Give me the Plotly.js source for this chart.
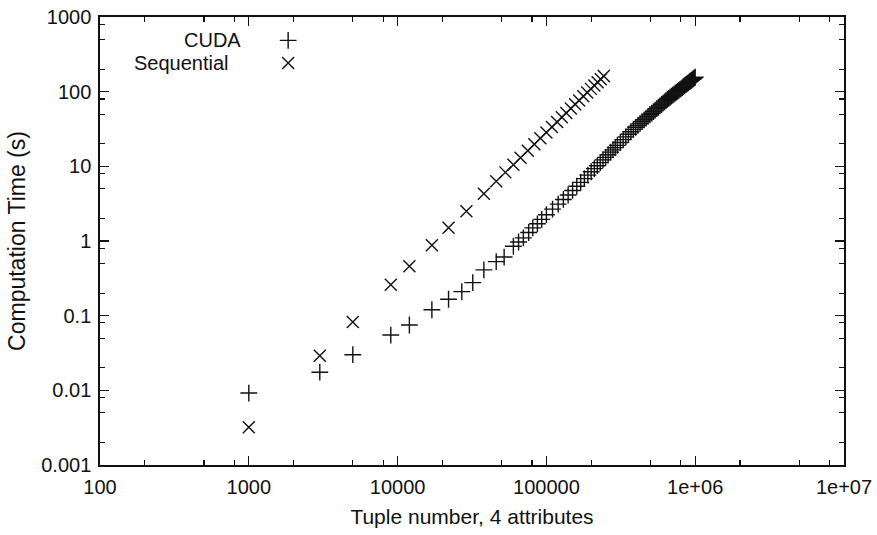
<!DOCTYPE html>
<html>
<head>
<meta charset="utf-8">
<script src="https://cdn.plot.ly/plotly-3.0.1.min.js"></script>
<style>html,body{margin:0;padding:0;background:#fff;}#chart{width:877px;height:535px;}</style>
</head>
<body>
<div id="chart"></div>
<script>
// ---- data ----
var seriesNames = ["CUDA", "Sequential"];

var cudaX = [1000, 3000, 5000, 9000, 12000, 17000, 22000, 27000, 32000, 38000, 46000, 52000, 60000, 65000, 70000, 76000, 81000, 87000, 93000,
  100000, 110000, 120000, 130000, 140000, 150000, 160000, 170000, 180000, 190000, 200000, 210000, 220000, 230000, 240000, 250000, 260000, 270000, 280000, 290000, 300000,
  314000, 328000, 342000, 356000, 370000, 384000, 398000, 412000, 426000, 440000, 454000, 468000, 482000, 496000, 510000, 524000, 538000, 552000, 566000, 580000, 594000, 608000, 622000, 636000,
  650000, 664000, 678000, 692000, 706000, 720000, 734000, 748000, 762000, 776000, 790000, 804000, 818000, 832000, 846000, 860000, 874000, 888000, 902000, 916000, 930000, 944000, 958000, 972000, 986000, 1000000];
var cudaY = [0.0092, 0.0175, 0.030, 0.055, 0.075, 0.12, 0.166, 0.21, 0.277, 0.41, 0.53, 0.61, 0.85, 0.97, 1.1, 1.3, 1.5, 1.7, 1.95,
  2.25, 2.67, 3.12, 3.60, 4.13, 4.75, 5.41, 6.10, 6.85, 7.63, 8.46, 9.32, 10.2, 11.2, 12.2, 13.2, 14.3, 15.5, 16.6, 17.8, 19.1,
  20.9, 22.8, 24.8, 26.9, 29.1, 31.3, 33.3, 35.4, 37.5, 39.8, 42.0, 44.3, 46.7, 49.1, 51.5, 54.0, 56.6, 59.2, 61.8, 64.6, 67.3, 70.2, 73.0, 75.9,
  78.7, 81.4, 84.2, 87.0, 89.7, 92.6, 95.5, 98.4, 101, 104, 107, 110, 113, 117, 120, 123, 126, 129, 132, 136, 139, 142, 146, 149, 153, 156];

var seqX = [1000, 3000, 5000, 9000, 12000, 17000, 22000, 29000, 38000, 46000, 53000, 60000, 67000, 75000, 83000, 91000,
  100000, 109000, 118000, 127000, 136000, 146000, 156000, 166000, 177000, 188000, 199000, 210000, 221000, 232000, 243000];
var seqY = [0.0032, 0.029, 0.082, 0.26, 0.46, 0.88, 1.5, 2.5, 4.3, 6.3, 8.3, 10.5, 13.0, 16.2, 19.8, 23.7,
  28.4, 33.7, 39.3, 45.4, 51.8, 59.5, 67.7, 76.4, 86.7, 97.5, 109, 121, 134, 147, 162];

var xTickVals = [100, 1000, 10000, 100000, 1000000, 10000000];
var xTickText = ["100", "1000", "10000", "100000", "1e+06", "1e+07"];
var yTickVals = [0.001, 0.01, 0.1, 1, 10, 100, 1000];
var yTickText = ["0.001", "0.01", "0.1", "1", "10", "100", "1000"];

var xTitle = "Tuple number, 4 attributes";
var yTitle = "Computation Time (s)";

// ---- minor tick positions (2, 5, 8 within each decade) ----
function minorTicks(lo, hi) {
  var out = [];
  for (var e = lo; e < hi; e++) {
    [2, 5, 8].forEach(function (m) { out.push(m * Math.pow(10, e)); });
  }
  return out;
}

var ink = "#111";
var FONT = "Liberation Sans, Arial, Helvetica, sans-serif";

var traces = [
  {
    x: cudaX, y: cudaY, type: "scatter", mode: "markers", name: " ",
    marker: { symbol: "cross-thin", size: 12, color: ink, line: { color: ink, width: 1.4 } }
  },
  {
    x: seqX, y: seqY, type: "scatter", mode: "markers", name: " ",
    marker: { symbol: "x-thin", size: 12, color: ink, line: { color: ink, width: 1.4 } }
  }
];

var axisCommon = {
  type: "log",
  showgrid: false, zeroline: false,
  showline: true, linecolor: ink, linewidth: 1.7, mirror: "ticks",
  ticks: "inside", ticklen: 9, tickwidth: 1.2, tickcolor: ink,
  tickmode: "array",
  tickfont: { family: FONT, size: 20, color: ink }
};

var layout = {
  width: 877, height: 535,
  paper_bgcolor: "#fff", plot_bgcolor: "#fff",
  margin: { l: 100, r: 33, t: 17, b: 70 },
  font: { family: FONT, color: ink },
  xaxis: Object.assign({}, axisCommon, {
    range: [2, 7],
    tickvals: xTickVals, ticktext: xTickText,
    minor: { tickmode: "array", tickvals: minorTicks(2, 7), ticks: "inside", ticklen: 5, tickwidth: 1.2, tickcolor: ink, showgrid: false },
    ticklabelstandoff: 3,
    title: { text: xTitle, font: { family: FONT, size: 21, color: ink }, standoff: 12 }
  }),
  yaxis: Object.assign({}, axisCommon, {
    range: [-3, 3],
    tickvals: yTickVals, ticktext: yTickText,
    minor: { tickmode: "array", tickvals: minorTicks(-3, 3), ticks: "inside", ticklen: 5, tickwidth: 1.2, tickcolor: ink, showgrid: false },
    ticklabelstandoff: 3,
    title: { text: yTitle, font: { family: FONT, size: 23, color: ink }, standoff: 9 }
  }),
  showlegend: true,
  legend: {
    x: 0.226, y: 0.984, xanchor: "left", yanchor: "top",
    bgcolor: "rgba(0,0,0,0)", borderwidth: 0,
    font: { family: FONT, size: 15, color: ink },
    itemwidth: 30, tracegroupgap: 0
  },
  annotations: [
    { xref: "paper", yref: "paper", x: 0.1922, y: 0.9487, xanchor: "right", yanchor: "middle", showarrow: false,
      text: seriesNames[0], font: { family: FONT, size: 20, color: ink } },
    { xref: "paper", yref: "paper", x: 0.1761, y: 0.8973, xanchor: "right", yanchor: "middle", showarrow: false,
      text: seriesNames[1], font: { family: FONT, size: 20, color: ink } }
  ]
};

Plotly.newPlot("chart", traces, layout, { displayModeBar: false, staticPlot: true });
</script>
</body>
</html>
